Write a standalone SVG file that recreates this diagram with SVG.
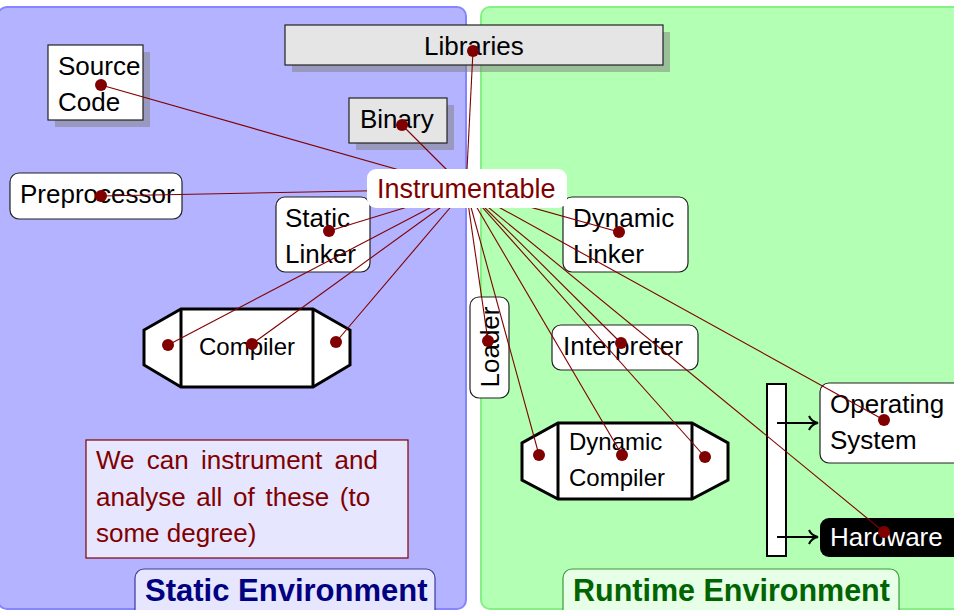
<svg xmlns="http://www.w3.org/2000/svg" width="954" height="610" viewBox="0 0 954 610">
  <defs>
    <style>
      .t { font-family: "Liberation Sans", Arial, sans-serif; font-size: 26px; fill: #000; }
      .tc { font-family: "Liberation Sans", Arial, sans-serif; font-size: 24px; fill: #000; }
      .box { fill: #fff; stroke: #222; stroke-width: 1.2; }
      .gbox { fill: #e5e5e5; stroke: #222; stroke-width: 1.2; }
      .shadow { fill: #7f7f7f; fill-opacity: 0.5; }
      .proc { fill: #fff; stroke: #000; stroke-width: 3; stroke-linejoin: miter; }
      .link { stroke: #800000; stroke-width: 1.1; fill: none; }
      .dot { fill: #800000; }
      .arr { stroke: #000; stroke-width: 2; fill: none; }
    </style>
    <marker id="tip" viewBox="-11 -8 13 16" markerWidth="13" markerHeight="16" refX="0" refY="0" orient="auto" markerUnits="userSpaceOnUse">
      <path d="M -9 -7 C -7 -2.5, -3 -0.6, 0 0 C -3 0.6, -7 2.5, -9 7" stroke="#000" stroke-width="2" fill="none"/>
    </marker>
  </defs>

  <!-- environment panels -->
  <g id="static-env">
    <rect x="-2" y="7" width="468" height="602" rx="9" fill="#b3b3ff" stroke="#8585ff" stroke-width="2"/>
  </g>
  <g id="runtime-env">
    <rect x="481" y="7" width="490" height="602" rx="9" fill="#b3ffb3" stroke="#85f085" stroke-width="2"/>
  </g>

  <!-- environment titles -->
  <g id="static-label">
    <rect x="135" y="569" width="300" height="50" rx="9" fill="#e6e6ff" stroke="#3a3a9a" stroke-width="1.2"/>
    <text x="145" y="601" font-family="Liberation Sans, Arial, sans-serif" font-size="31" font-weight="bold" fill="#000080">Static Environment</text>
  </g>
  <g id="runtime-label">
    <rect x="563" y="569" width="336" height="50" rx="9" fill="#e6ffe6" stroke="#3a9a3a" stroke-width="1.2"/>
    <text x="573" y="601" font-family="Liberation Sans, Arial, sans-serif" font-size="30.5" font-weight="bold" fill="#006400">Runtime Environment</text>
  </g>

  <!-- note -->
  <g id="note">
    <rect x="86" y="440" width="322" height="118" fill="#e6e6ff" stroke="#800000" stroke-width="1.2"/>
    <text class="t" style="fill:#800000">
      <tspan x="96" y="469" word-spacing="5">We can instrument and</tspan>
      <tspan x="96" y="506" word-spacing="3.5">analyse all of these (to</tspan>
      <tspan x="96" y="542">some degree)</tspan>
    </text>
  </g>

  <!-- artefacts -->
  <g id="libraries">
    <rect class="shadow" x="292" y="32" width="378" height="40"/>
    <rect class="gbox" x="285" y="25" width="378" height="40"/>
    <text class="t" x="424" y="55">Libraries</text>
  </g>
  <g id="source-code">
    <rect class="shadow" x="55" y="52" width="95" height="75"/>
    <rect class="box" x="48" y="45" width="95" height="75"/>
    <text class="t"><tspan x="58" y="75">Source</tspan><tspan x="58" y="111">Code</tspan></text>
  </g>
  <g id="binary">
    <rect class="shadow" x="356" y="105" width="98" height="45"/>
    <rect class="gbox" x="349" y="98" width="98" height="45"/>
    <text class="t" x="360" y="128">Binary</text>
  </g>

  <!-- static tools -->
  <g id="preprocessor">
    <rect class="box" x="10" y="173" width="172" height="46" rx="9"/>
    <text class="t" x="20" y="203">Preprocessor</text>
  </g>
  <g id="static-linker">
    <rect class="box" x="276" y="197" width="94" height="75" rx="9"/>
    <text class="t"><tspan x="285" y="227">Static</tspan><tspan x="285" y="263">Linker</tspan></text>
  </g>
  <g id="compiler">
    <path class="proc" d="M181 309 L313 309 L350 330 L350 365 L313 387 L181 387 L144 365 L144 330 Z"/>
    <line x1="181" y1="309" x2="181" y2="387" stroke="#000" stroke-width="3"/>
    <line x1="313" y1="309" x2="313" y2="387" stroke="#000" stroke-width="3"/>
    <text class="tc" x="247" y="355" text-anchor="middle">Compiler</text>
  </g>

  <!-- runtime components -->
  <g id="dynamic-linker">
    <rect class="box" x="563" y="197" width="125" height="75" rx="9"/>
    <text class="t"><tspan x="573" y="227">Dynamic</tspan><tspan x="573" y="263">Linker</tspan></text>
  </g>
  <g id="loader">
    <rect class="box" x="470" y="297" width="39" height="101" rx="9"/>
    <text class="t" x="489" y="357" text-anchor="middle" transform="rotate(-90 489 347)">Loader</text>
  </g>
  <g id="interpreter">
    <rect class="box" x="552" y="325" width="146" height="45" rx="9"/>
    <text class="t" x="563" y="355">Interpreter</text>
  </g>
  <g id="dynamic-compiler">
    <path class="proc" d="M558 423 L692 423 L728 443 L728 480 L692 499 L558 499 L522 480 L522 443 Z"/>
    <line x1="558" y1="423" x2="558" y2="499" stroke="#000" stroke-width="3"/>
    <line x1="692" y1="423" x2="692" y2="499" stroke="#000" stroke-width="3"/>
    <text class="tc"><tspan x="569" y="450">Dynamic</tspan><tspan x="569" y="486">Compiler</tspan></text>
  </g>
  <g id="bus">
    <rect x="767" y="384" width="19" height="172" fill="#fff" stroke="#000" stroke-width="2"/>
  </g>
  <g id="operating-system">
    <rect class="box" x="820" y="383" width="150" height="80" rx="9"/>
    <text class="t"><tspan x="830" y="413">Operating</tspan><tspan x="830" y="449">System</tspan></text>
  </g>
  <g id="hardware">
    <rect x="820" y="518" width="150" height="39" rx="9" fill="#000"/>
    <text class="t" x="830" y="546" style="fill:#fff">Hardware</text>
  </g>

  <!-- bus to OS / hardware -->
  <g id="bus-arrows">
    <line class="arr" x1="777" y1="423" x2="818" y2="423" marker-end="url(#tip)"/>
    <line class="arr" x1="777" y1="537" x2="818" y2="537" marker-end="url(#tip)"/>
  </g>

  <!-- instrumentation links from the central node -->
  <g id="connectors">
    <g class="link">
      <line x1="466" y1="189" x2="473" y2="51"/>
      <line x1="466" y1="189" x2="101" y2="85"/>
      <line x1="466" y1="189" x2="402" y2="125"/>
      <line x1="466" y1="189" x2="101" y2="196"/>
      <line x1="466" y1="189" x2="329" y2="231"/>
      <line x1="466" y1="189" x2="619" y2="232"/>
      <line x1="466" y1="189" x2="168" y2="345"/>
      <line x1="466" y1="189" x2="252" y2="344"/>
      <line x1="466" y1="189" x2="336" y2="342"/>
      <line x1="466" y1="189" x2="488" y2="341"/>
      <line x1="466" y1="189" x2="621" y2="343"/>
      <line x1="466" y1="189" x2="539" y2="455"/>
      <line x1="466" y1="189" x2="622" y2="455"/>
      <line x1="466" y1="189" x2="705" y2="457"/>
      <line x1="466" y1="189" x2="884" y2="420"/>
      <line x1="466" y1="189" x2="884" y2="532"/>
    </g>
    <g class="dot">
      <circle cx="473" cy="51" r="6"/>
      <circle cx="101" cy="85" r="6"/>
      <circle cx="402" cy="125" r="6"/>
      <circle cx="101" cy="196" r="6"/>
      <circle cx="329" cy="231" r="6"/>
      <circle cx="619" cy="232" r="6"/>
      <circle cx="168" cy="345" r="6"/>
      <circle cx="252" cy="344" r="6"/>
      <circle cx="336" cy="342" r="6"/>
      <circle cx="488" cy="341" r="6"/>
      <circle cx="621" cy="343" r="6"/>
      <circle cx="539" cy="455" r="6"/>
      <circle cx="622" cy="455" r="6"/>
      <circle cx="705" cy="457" r="6"/>
      <circle cx="884" cy="420" r="6"/>
      <circle cx="884" cy="532" r="6"/>
    </g>
  </g>

  <!-- central node -->
  <g id="instrumentable">
    <rect x="367" y="169" width="200" height="39" rx="9" fill="#fff"/>
    <text class="t" x="377" y="198" style="fill:#800000;font-size:27px">Instrumentable</text>
  </g>
</svg>
